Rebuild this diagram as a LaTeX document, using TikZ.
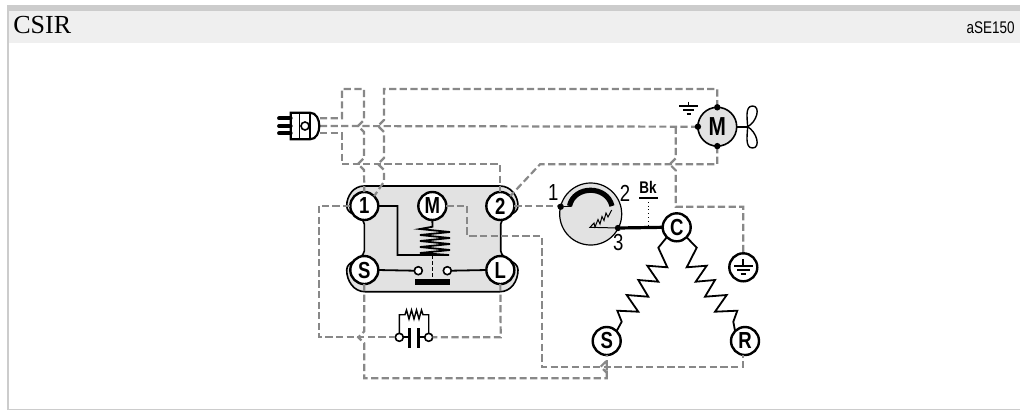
\documentclass[tikz,border=0pt]{standalone}
\usepackage{fontspec}
\setmainfont{Liberation Serif}
\newfontfamily\narrowfont[FakeStretch=0.8]{Liberation Sans}
\usetikzlibrary{positioning, calc}
\definecolor{barcolor}{RGB}{204, 204, 204}
\definecolor{headcolor}{RGB}{239, 239, 239}
\definecolor{wirecolor}{RGB}{136, 136, 136}
\definecolor{panelcolor}{RGB}{226, 226, 226}
% hop of a vertical wire over a horizontal one
\newcommand{\hopwire}[2]{-- (#1,#2-6) -- (#1-6,#2) -- (#1,#2+6)}

\begin{document}
\begin{tikzpicture}[
    x=0.025cm, y=-0.025cm,
    node distance=0.9cm and 1cm,
    pin/.style={circle, draw, line width=0.06cm, fill=white, minimum size=0.7cm, inner sep=0pt, outer sep=0pt, font=\narrowfont\bfseries\fontsize{16.5}{16.5}\selectfont},
    wire/.style={draw=wirecolor, line width=0.055cm, dash pattern=on 0.18cm off 0.085cm},
    line/.style={draw=black, line width=0.045cm},
    thinline/.style={draw=black, line width=0.025cm},
    term/.style={circle, draw, line width=0.04cm, fill=white, minimum size=0.2cm, inner sep=0pt, outer sep=0pt},
    dot/.style={circle, fill=black, minimum size=0.16cm, inner sep=0pt, outer sep=0pt},
    numlabel/.style={font=\narrowfont\fontsize{16.5}{16.5}\selectfont, inner sep=0pt},
]
\useasboundingbox (0,0) rectangle (1020,410);

% ============ frame ============
\fill[headcolor] (9,11) rectangle (1020,43);
\fill[barcolor] (7,5) rectangle (1020,11);
\fill[barcolor] (7,5) rectangle (9,410);
\fill[barcolor] (7,408.6) rectangle (1020,410);
\node[anchor=base west, inner sep=0pt, font=\fontsize{18.5}{18.5}\selectfont] (title) at (13,33) {CSIR};
\node[anchor=base east, inner sep=0pt, font=\narrowfont\fontsize{12}{12}\selectfont] (code) at (1015,33.5) {aSE150};

% ============ relay panel ============
\path[fill=panelcolor, draw=black, line width=0.04cm]
    (364,186) -- (500,186) to[out=0, in=90] (518,206) to[out=-90, in=80] (500.7,224)
    -- (500.7,251) to[out=-80, in=90] (518,270) to[out=-90, in=0] (500,291.7)
    -- (365,291.7) to[out=180, in=-90] (346.7,270) to[out=90, in=-100] (364.3,251)
    -- (364.3,224) to[out=100, in=-90] (346.7,206) to[out=90, in=180] (364,186) -- cycle;

% ============ nodes ============
\node[pin] (pin_one) at (364.3,206) {1};
\node[pin, right=of pin_one] (pin_m) {M};
\node[pin, right=of pin_m] (pin_two) {2};
\node[pin, below=of pin_one] (pin_s) {S};
\node[pin, below=of pin_two] (pin_l) {L};
\node[pin] (com_c) at (676.7,227.3) {C};
\node[pin] (com_s) at (606.7,341) {S};
\node[pin] (com_r) at (745,341) {R};
\node[pin] (earth) at (743.3,267.3) {};

\node[circle, draw, line width=0.04cm, fill=panelcolor, minimum size=0.97cm, inner sep=0pt, outer sep=0pt, font=\narrowfont\bfseries\fontsize{18.5}{18.5}\selectfont] (motor) at (717.3,126.7) {M};
\node[circle, draw, line width=0.03cm, fill=panelcolor, minimum size=1.55cm, inner sep=0pt, outer sep=0pt] (overload) at (590.7,214) {};

\node[term] (relay_a) at (418.3,270.7) {};
\node[term] (relay_b) at (447.3,270.7) {};
\node[term] (cap_a) at (399.3,337.3) {};
\node[term] (cap_b) at (428.7,337.3) {};

\coordinate (plug_a) at (320,118.3);
\coordinate (plug_b) at (320,126);
\coordinate (plug_c) at (320,133.3);

% ============ dashed wires ============
\draw[wire] (plug_a) -- (342,118.3) -- (342,89) -- (364,89) \hopwire{364}{126} \hopwire{364}{164} -- (pin_one.north);
\draw[wire] (plug_c) -- (342,133.3) -- (342,164.3) -- (pin_two.north |- 0,164.3) -- (pin_two.north);
\draw[wire] (plug_b) -- (motor.west);
\draw[wire] (motor.north) -- (717.3,89) -- (384,89) \hopwire{384}{126} \hopwire{384}{164} -- (384,181.7) -- (pin_one.north east);
\draw[wire] (motor.south) -- (717.3,164.3) -- (540,164.3) -- (pin_two.north east);
\draw[wire] (675.7,126.7) \hopwire{675.7}{164.3} -- (675.7,206.7) -- (743.3,206.7) -- (earth.north);
\draw[wire] (pin_two.east) -- (overload.west |- pin_two.east);
\draw[wire] (pin_one.west) -- (318.7,206) -- (318.7,337.3) -- (cap_a.west);
\draw[wire] (pin_l.south) -- (500.7,337.3) -- (cap_b.east);
\draw[wire] (pin_s.south) \hopwire{364.3}{337.3} -- (364.3,378.3) -- (606.7,378.3) \hopwire{606.7}{366.7} -- (com_s.south);
\draw[wire] (pin_m.east) -- (467.3,206) -- (467.3,236) -- (541.7,236) -- (541.7,366.7) -- (743.3,366.7) -- (com_r.south -| 743.3,0);

% ============ relay inside ============
\draw[line] (pin_m.south) -- (432.5,226.7) -- (420,229) -- (450,232) -- (420,235) -- (450,238) -- (420,241) -- (450,244) -- (420,247) -- (450,250) -- (420,253) -- (449,255) -- (397.5,255) -- (397.5,206) -- (pin_one.east);
\draw[line] (pin_s.east) -- (relay_a.west);
\draw[line] (pin_l.west) -- (relay_b.east);
\draw[thinline, dash pattern=on 0.1cm off 0.05cm] (432.5,255) -- (432.5,279);
\node[fill=black, minimum width=0.87cm, minimum height=0.16cm, inner sep=0pt, outer sep=0pt] (relay_bar) at (432.6,281.8) {};

% ============ capacitor + resistor ============
\draw[line] (cap_a.east) -- (410,337.3);
\draw[line] (cap_b.west) -- (418,337.3);
\node[fill=black, minimum width=0.085cm, minimum height=0.5cm, inner sep=0pt, outer sep=0pt] (plate_a) at (409.7,337.7) {};
\node[fill=black, minimum width=0.085cm, minimum height=0.5cm, inner sep=0pt, outer sep=0pt] (plate_b) at (418.3,337.7) {};
\draw[thinline, line width=0.035cm] (cap_a.north) -- (399.3,314.7) -- (405,314.7) -- (406.5,310) -- (409,319) -- (411.5,310) -- (414,319) -- (416.5,310) -- (419,319) -- (421.5,310) -- (423,314.7) -- (428.7,314.7) -- (cap_b.north);

% ============ plug ============
\node[draw=none, minimum width=0pt, inner sep=0pt] (plug) at (305,126) {};
\draw[line, fill=white, line width=0.055cm] (310,112.7) -- (290.7,112.7) -- (290.7,139.3) -- (310,139.3) to[out=0, in=-90] (319.3,126) to[out=90, in=0] (310,112.7) -- cycle;
\draw[thinline, line width=0.035cm] (299.3,112.7) -- (299.3,139.3) (310,112.7) -- (310,139.3);
\node[term] (plug_hole) at (plug) {};
\foreach \py in {118.3,126,133.3}
    \draw[line width=0.095cm, line cap=round] (279,\py) -- (290.7,\py);

% ============ motor + fan ============
\node[dot] (motor_n) at (motor.north) {};
\node[dot] (motor_s) at (motor.south) {};
\node[dot] (motor_w) at (motor.west) {};
\coordinate (fan) at (747.5,126.7);
\draw[line] (motor.east) -- (fan);
\draw[thinline, line width=0.035cm] (fan) .. controls (757,122) and (761,106) .. (752.5,106) .. controls (744,106) and (748,122) .. (fan)
    .. controls (757,132) and (761,148) .. (752.5,148) .. controls (744,148) and (748,132) .. (fan);

% ============ earth marks ============
\coordinate (earth_top) at (688.5,101.7);
\draw[line] (earth_top) -- (688.5,106);
\draw[line] (679.3,106) -- (698.3,106) (683,110) -- (694,110) (686.7,114) -- (690.5,114);
\draw[line] (743.3,259) -- (743.3,266);
\draw[line] (734,266) -- (752.7,266) (737,270) -- (749.5,270) (740.5,274) -- (746,274);

% ============ overload ============
\node[dot] (over_one) at (560.7,206.7) {};
\node[dot] (over_three) at (618,228) {};
\draw[line, line width=0.035cm] (over_one) -- (571,206.7);
\draw[line width=0.13cm] (569.5,206) .. controls (574,185) and (607,185) .. (612,206);
\draw[thinline] (over_three) -- (590,227.3) -- (594,223) -- (595,227) -- (598,219.5) -- (600,224) -- (602,216.5) -- (604,220.5) -- (606,213) -- (608,217) -- (611.7,210);
\draw[line width=0.08cm] (over_three) -- (com_c.west);
\node[numlabel] (lab_one) at (553.3,192.5) {1};
\node[numlabel] (lab_two) at (625,193) {2};
\node[numlabel] (lab_three) at (618.3,242.7) {3};
\node[inner sep=0pt, font=\narrowfont\bfseries\fontsize{12}{12}\selectfont] (lab_bk) at (648,187) {Bk};
\coordinate (bk_foot) at (648,198);
\draw[line] (639,198) -- (657.5,198);
\draw[thinline, dotted] (bk_foot) -- (648,228);

% ============ motor windings ============
\draw[line] (com_c.south west) -- (658.3,247.7) -- (667.3,267.3) -- (647.3,265.7) -- (658.3,281.7) -- (638.3,280) -- (648.3,296.7) -- (626.7,295) -- (638.3,311.7) -- (617.3,310.7) -- (621.7,321.7) -- (com_s.north east);
\draw[line] (com_c.south east) -- (696.7,247.7) -- (686.7,267.3) -- (706.7,265.7) -- (695.7,281.7) -- (715,280) -- (705,296.7) -- (726.7,295) -- (715,311.7) -- (737.3,310.7) -- (733.3,321.7) -- (com_r.north west);

\end{tikzpicture}
\end{document}
